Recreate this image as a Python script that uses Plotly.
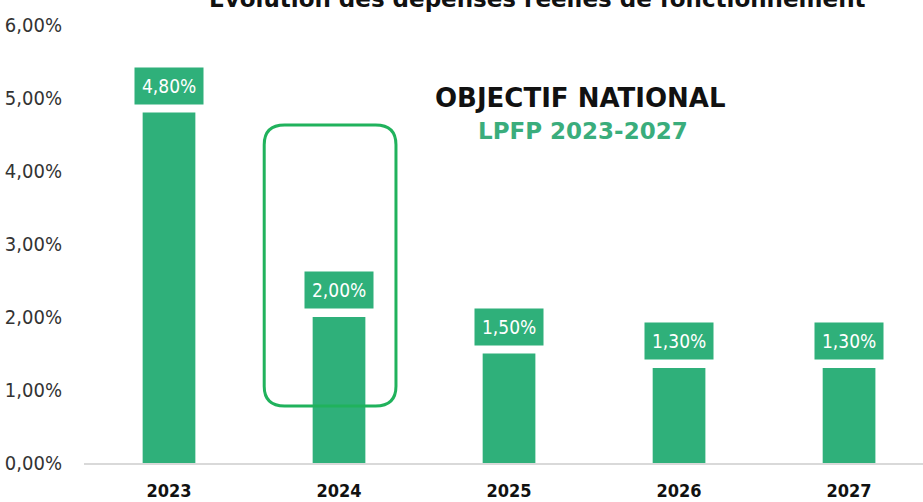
import plotly.graph_objects as go

# data
years = ['2023', '2024', '2025', '2026', '2027']
rates = [4.80, 2.00, 1.50, 1.30, 1.30]
y_ticks = [0, 1, 2, 3, 4, 5, 6]
y_tick_labels = ['0,00%', '1,00%', '2,00%', '3,00%', '4,00%', '5,00%', '6,00%']

bar_green = '#2fb07a'
box_green = '#20b25c'
narrow = 'Liberation Sans Narrow, DejaVu Sans Condensed, sans-serif'
wide = 'DejaVu Sans, sans-serif'

fig = go.Figure()

fig.add_trace(go.Bar(
    x=years,
    y=rates,
    width=0.31,
    marker=dict(color=bar_green, line=dict(width=0)),
    hoverinfo='skip',
))

# value labels in green boxes above each bar
for i, v in enumerate(rates):
    fig.add_annotation(
        x=i, y=v, xref='x', yref='y',
        text=f'{v:.2f}%'.replace('.', ','),
        showarrow=False,
        yanchor='bottom', yshift=8,
        bgcolor=bar_green,
        borderpad=7,
        font=dict(family=narrow, size=19, color='white'),
    )

# rounded frame around the 2024 target
x0, x1, y0, y1 = 1 - 0.44, 1 + 0.335, 0.78, 4.63
rx, ry = 0.12, 0.27
path = (f'M {x0 + rx},{y1} L {x1 - rx},{y1} Q {x1},{y1} {x1},{y1 - ry} '
        f'L {x1},{y0 + ry} Q {x1},{y0} {x1 - rx},{y0} '
        f'L {x0 + rx},{y0} Q {x0},{y0} {x0},{y0 + ry} '
        f'L {x0},{y1 - ry} Q {x0},{y1} {x0 + rx},{y1} Z')
fig.add_shape(type='path', path=path, xref='x', yref='y',
              line=dict(color=box_green, width=3))

fig.add_annotation(
    x=2.42, y=5.0, xref='x', yref='y',
    text='<b>OBJECTIF NATIONAL</b>', showarrow=False,
    font=dict(family=wide, size=26, color='#111111'),
)
fig.add_annotation(
    x=2.435, y=4.55, xref='x', yref='y',
    text='<b>LPFP 2023-2027</b>', showarrow=False,
    font=dict(family=wide, size=23, color='#3aad7c'),
)

# title, mostly cut off at the top edge
fig.add_annotation(
    x=0.54, y=1.0, xref='paper', yref='paper',
    xanchor='center', yanchor='bottom', yshift=11,
    text='<b>Evolution des dépenses réelles de fonctionnement</b>',
    showarrow=False,
    font=dict(family=wide, size=23, color='#111111'),
)

fig.update_layout(
    width=923, height=502,
    margin=dict(l=84, r=0, t=25, b=39),
    paper_bgcolor='white',
    plot_bgcolor='white',
    showlegend=False,
)

fig.update_xaxes(
    type='category',
    range=[-0.5, 4.435],
    automargin=False,
    showgrid=False,
    showline=True, linecolor='#d9d9d9', linewidth=2,
    ticks='outside', ticklen=10, tickcolor='rgba(0,0,0,0)',
    tickfont=dict(family=narrow, size=18, color='#111111', weight='bold'),
    fixedrange=True,
)
fig.update_yaxes(
    range=[0, 6],
    automargin=False,
    tickvals=y_ticks, ticktext=y_tick_labels,
    showgrid=False, zeroline=False, showline=False,
    ticks='outside', ticklen=17, tickcolor='rgba(0,0,0,0)',
    tickfont=dict(family=narrow, size=20, color='#333333'),
    fixedrange=True,
)

# the page body has a default 8px margin; drop it so the figure fills the window
fig.write_html('out.html', config={'displayModeBar': False},
               post_script="document.body.style.margin='0';")
